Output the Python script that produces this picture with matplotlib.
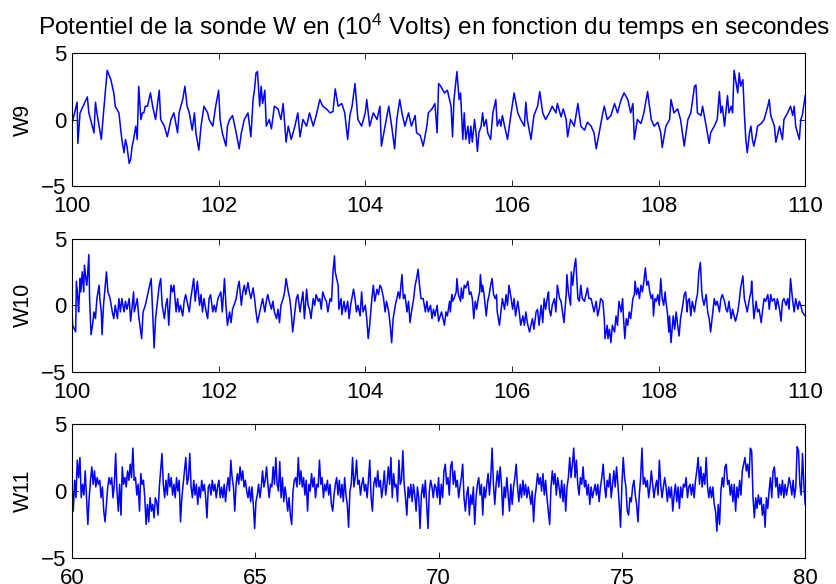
import numpy as np
import matplotlib
matplotlib.use("Agg")
import matplotlib.pyplot as plt

plt.rcParams['font.family'] = ['Liberation Sans', 'DejaVu Sans']

# W9, 100 s - 110 s
t_w9 = [100.00, 100.07, 100.08, 100.11, 100.21, 100.23, 100.30, 100.32, 100.34, 100.40,
        100.43, 100.48, 100.53, 100.57, 100.59, 100.64, 100.66, 100.68, 100.71, 100.73,
        100.75, 100.78, 100.80, 100.82, 100.84, 100.87, 100.89, 100.91, 100.94, 100.96,
        100.98, 101.00, 101.03, 101.05, 101.07, 101.10, 101.12, 101.14, 101.19, 101.21,
        101.26, 101.30, 101.35, 101.39, 101.44, 101.46, 101.51, 101.54, 101.57, 101.60,
        101.64, 101.67, 101.69, 101.73, 101.76, 101.80, 101.85, 101.87, 101.92, 101.96,
        102.00, 102.02, 102.05, 102.10, 102.12, 102.15, 102.19, 102.24, 102.28, 102.31,
        102.35, 102.40, 102.44, 102.47, 102.49, 102.51, 102.53, 102.56, 102.58, 102.60,
        102.63, 102.65, 102.69, 102.72, 102.76, 102.81, 102.85, 102.88, 102.92, 102.95,
        102.99, 103.04, 103.08, 103.11, 103.15, 103.20, 103.24, 103.29, 103.33, 103.38,
        103.42, 103.47, 103.52, 103.56, 103.59, 103.63, 103.68, 103.72, 103.76, 103.79,
        103.82, 103.86, 103.90, 103.95, 104.00, 104.02, 104.06, 104.11, 104.16, 104.20,
        104.22, 104.27, 104.32, 104.36, 104.40, 104.43, 104.47, 104.50, 104.54, 104.59,
        104.63, 104.68, 104.70, 104.75, 104.79, 104.84, 104.86, 104.91, 104.95, 104.98,
        105.00, 105.03, 105.08, 105.12, 105.17, 105.19, 105.21, 105.25, 105.28, 105.30,
        105.33, 105.35, 105.37, 105.40, 105.42, 105.44, 105.46, 105.49, 105.51, 105.53,
        105.55, 105.58, 105.60, 105.62, 105.65, 105.67, 105.71, 105.74, 105.78, 105.80,
        105.83, 105.85, 105.87, 105.90, 105.94, 105.99, 106.03, 106.08, 106.12, 106.17,
        106.19, 106.21, 106.26, 106.30, 106.35, 106.38, 106.42, 106.46, 106.51, 106.55,
        106.60, 106.62, 106.67, 106.70, 106.74, 106.76, 106.80, 106.85, 106.90, 106.94,
        106.99, 107.03, 107.08, 107.12, 107.15, 107.19, 107.24, 107.26, 107.30, 107.35,
        107.40, 107.44, 107.49, 107.53, 107.58, 107.62, 107.65, 107.67, 107.71, 107.76,
        107.80, 107.85, 107.90, 107.94, 107.99, 108.03, 108.05, 108.10, 108.15, 108.17,
        108.21, 108.26, 108.30, 108.35, 108.40, 108.44, 108.49, 108.51, 108.53, 108.58,
        108.60, 108.65, 108.69, 108.71, 108.76, 108.80, 108.83, 108.85, 108.87, 108.90,
        108.94, 108.96, 108.99, 109.01, 109.03, 109.05, 109.08, 109.10, 109.12, 109.15,
        109.17, 109.19, 109.21, 109.24, 109.26, 109.28, 109.30, 109.33, 109.35, 109.40,
        109.44, 109.49, 109.51, 109.53, 109.58, 109.60, 109.65, 109.69, 109.71, 109.76,
        109.80, 109.83, 109.85, 109.87, 109.92, 109.94, 109.96, 110.00]
w9 = [-0.3, 1.3, -1.8, 0.5, 1.7, 0.5, -1.0, 1.3, 0.5, -1.5,
      0.5, 3.7, 3.0, 2.0, 1.0, 0.5, -0.5, -1.5, -2.5, -1.5,
      -2.0, -3.3, -3.0, -2.0, -1.5, -0.5, -1.5, 2.5, 0.0, 0.5,
      0.5, 1.0, 1.0, 1.5, 2.0, 1.0, 0.5, 0.0, 2.2, 0.0,
      -0.5, -1.3, 0.0, 0.5, -1.0, 0.5, 1.5, 2.5, 1.0, 0.5,
      -0.8, 0.5, -1.0, -2.3, -0.5, 1.0, 0.5, 0.0, -0.5, 1.0,
      2.2, 0.0, -1.0, -2.0, -0.5, 0.0, 0.3, -1.0, -2.2, -1.0,
      0.0, 0.5, -1.3, 1.5, 2.3, 3.5, 3.6, 1.0, 2.5, 1.2,
      2.2, -0.5, 0.0, -0.7, 1.0, 0.8, 0.0, 1.2, -1.7, -0.5,
      -1.5, -0.5, 0.5, -1.3, 0.0, -0.5, 0.5, -0.5, 0.3, 1.5,
      1.0, 0.8, 0.5, 0.6, 2.3, 1.0, 1.2, 0.5, -1.5, 0.3,
      1.0, 2.7, 0.0, -0.5, 0.5, 1.5, -0.5, 0.5, 0.0, 1.0,
      -2.0, -0.5, 1.0, -0.5, -2.2, 0.0, 1.5, 0.5, -0.5, 0.5,
      -0.5, 0.3, -1.0, -1.2, -2.0, -0.5, 0.5, 0.8, 1.2, -1.0,
      2.7, 2.5, 2.0, 2.2, 1.0, -1.3, 1.5, 3.6, 1.5, 2.0,
      -1.5, 0.5, -1.5, -0.5, -1.8, -0.5, -1.7, 0.0, -1.0, -2.4,
      -1.0, -0.5, 0.5, -0.5, 0.0, -1.0, -1.5, 0.5, 1.5, -0.5,
      0.0, -0.5, 0.3, -0.5, -1.5, 0.5, 2.0, 0.5, 0.0, -0.5,
      1.3, 0.0, -1.5, 0.3, 1.0, 2.1, 0.5, 0.0, 0.5, 1.0,
      0.5, 1.2, 0.2, 0.8, 0.0, -1.3, 0.0, -0.5, 1.2, -0.5,
      -0.8, -0.2, -0.5, -1.0, -2.2, -1.0, 0.5, 1.0, 0.0, 0.3,
      1.2, 0.5, 1.5, 2.0, 1.5, 0.5, 1.2, -1.5, 0.0, -0.3,
      0.5, 2.1, 0.0, -0.5, -0.2, -1.0, -2.1, -0.5, 0.0, 1.5,
      0.5, 0.8, 0.0, -2.0, 0.0, 0.5, 2.5, 2.6, 0.5, 0.3,
      1.0, -0.5, -1.8, -1.0, -0.5, 0.0, 2.1, 0.5, 1.0, -0.5,
      1.8, 0.5, 1.0, 0.5, 3.7, 3.0, 2.0, 3.5, 2.5, 3.0,
      0.5, -1.5, -2.5, -1.0, -0.5, -1.5, -2.0, -1.2, -0.5, -0.3,
      0.0, 1.0, 1.5, 0.3, -0.5, -1.7, -0.5, -1.5, 0.0, 0.5,
      1.0, 0.3, 1.0, -0.5, -1.5, 0.0, 0.3, 1.8]

# W10, 100 s - 110 s
t_w10 = [100.00, 100.01, 100.05, 100.06, 100.08, 100.09, 100.11, 100.12, 100.14, 100.16,
         100.17, 100.20, 100.21, 100.23, 100.24, 100.26, 100.28, 100.30, 100.32, 100.34,
         100.37, 100.38, 100.40, 100.41, 100.43, 100.47, 100.49, 100.52, 100.55, 100.57,
         100.59, 100.62, 100.64, 100.66, 100.68, 100.71, 100.73, 100.75, 100.78, 100.80,
         100.84, 100.85, 100.89, 100.91, 100.95, 100.97, 101.00, 101.04, 101.06, 101.08,
         101.10, 101.12, 101.14, 101.16, 101.19, 101.21, 101.23, 101.26, 101.28, 101.30,
         101.32, 101.35, 101.37, 101.39, 101.42, 101.44, 101.46, 101.48, 101.51, 101.53,
         101.55, 101.58, 101.60, 101.62, 101.66, 101.68, 101.71, 101.74, 101.76, 101.78,
         101.80, 101.83, 101.85, 101.87, 101.89, 101.92, 101.94, 101.96, 101.99, 102.03,
         102.05, 102.08, 102.10, 102.12, 102.15, 102.17, 102.19, 102.21, 102.24, 102.26,
         102.28, 102.31, 102.33, 102.35, 102.37, 102.40, 102.42, 102.44, 102.47, 102.49,
         102.51, 102.53, 102.56, 102.58, 102.60, 102.63, 102.65, 102.67, 102.69, 102.72,
         102.74, 102.76, 102.79, 102.81, 102.83, 102.85, 102.88, 102.90, 102.92, 102.95,
         102.97, 102.99, 103.01, 103.04, 103.06, 103.08, 103.11, 103.13, 103.15, 103.17,
         103.20, 103.22, 103.24, 103.26, 103.29, 103.31, 103.33, 103.36, 103.38, 103.40,
         103.42, 103.45, 103.47, 103.49, 103.52, 103.54, 103.56, 103.58, 103.59, 103.61,
         103.63, 103.64, 103.67, 103.68, 103.71, 103.73, 103.76, 103.78, 103.80, 103.84,
         103.86, 103.88, 103.90, 103.93, 103.95, 103.97, 104.00, 104.02, 104.04, 104.06,
         104.09, 104.11, 104.13, 104.16, 104.18, 104.20, 104.22, 104.25, 104.27, 104.29,
         104.32, 104.34, 104.36, 104.38, 104.41, 104.43, 104.45, 104.47, 104.50, 104.52,
         104.54, 104.57, 104.59, 104.61, 104.63, 104.66, 104.68, 104.70, 104.72, 104.74,
         104.76, 104.79, 104.82, 104.84, 104.86, 104.89, 104.91, 104.93, 104.95, 104.98,
         105.00, 105.04, 105.08, 105.10, 105.12, 105.15, 105.16, 105.18, 105.19, 105.21,
         105.24, 105.25, 105.27, 105.30, 105.31, 105.33, 105.35, 105.37, 105.40, 105.42,
         105.44, 105.46, 105.48, 105.50, 105.52, 105.54, 105.56, 105.57, 105.59, 105.60,
         105.62, 105.65, 105.67, 105.69, 105.71, 105.73, 105.75, 105.77, 105.79, 105.80,
         105.83, 105.85, 105.87, 105.90, 105.92, 105.94, 105.96, 105.99, 106.01, 106.03,
         106.05, 106.08, 106.10, 106.12, 106.15, 106.17, 106.19, 106.21, 106.24, 106.26,
         106.28, 106.30, 106.33, 106.35, 106.37, 106.40, 106.42, 106.44, 106.46, 106.49,
         106.50, 106.51, 106.53, 106.55, 106.58, 106.60, 106.62, 106.65, 106.67, 106.69,
         106.71, 106.74, 106.75, 106.77, 106.80, 106.81, 106.83, 106.85, 106.87, 106.89,
         106.90, 106.92, 106.94, 106.96, 106.99, 107.01, 107.03, 107.05, 107.08, 107.10,
         107.12, 107.15, 107.17, 107.19, 107.21, 107.24, 107.26, 107.27, 107.30, 107.31,
         107.33, 107.35, 107.37, 107.40, 107.42, 107.44, 107.46, 107.49, 107.51, 107.52,
         107.54, 107.56, 107.58, 107.60, 107.62, 107.65, 107.67, 107.68, 107.70, 107.72,
         107.74, 107.76, 107.78, 107.80, 107.82, 107.84, 107.86, 107.88, 107.90, 107.92,
         107.93, 107.95, 107.97, 107.99, 108.01, 108.03, 108.05, 108.07, 108.09, 108.10,
         108.12, 108.14, 108.15, 108.17, 108.19, 108.20, 108.22, 108.24, 108.26, 108.28,
         108.30, 108.33, 108.35, 108.37, 108.39, 108.40, 108.42, 108.44, 108.46, 108.49,
         108.51, 108.53, 108.55, 108.57, 108.59, 108.60, 108.62, 108.65, 108.67, 108.69,
         108.71, 108.74, 108.76, 108.78, 108.80, 108.83, 108.85, 108.87, 108.90, 108.92,
         108.94, 108.96, 108.99, 109.01, 109.03, 109.05, 109.08, 109.10, 109.12, 109.15,
         109.17, 109.19, 109.21, 109.24, 109.26, 109.27, 109.29, 109.30, 109.33, 109.35,
         109.37, 109.40, 109.42, 109.44, 109.46, 109.49, 109.51, 109.53, 109.55, 109.58,
         109.60, 109.62, 109.65, 109.67, 109.69, 109.71, 109.74, 109.76, 109.78, 109.80,
         109.83, 109.85, 109.87, 109.90, 109.92, 109.94, 109.96, 110.00]
w10 = [-0.5, -1.5, -2.0, 1.8, 0.5, -0.5, 2.0, 1.0, 2.5, 1.0,
       3.0, 1.5, 2.0, 3.8, 0.5, -2.2, -1.5, -0.5, -1.0, 0.5,
       1.5, 0.5, -0.5, -2.2, 0.0, 2.5, 1.0, 0.5, -0.5, -1.0,
       0.0, -1.0, 0.5, -0.5, 0.5, -0.5, 0.3, -0.3, 0.5, -1.2,
       1.0, -0.5, 0.5, -0.8, -2.5, -0.5, 0.0, 1.0, 1.5, 2.0,
       -0.5, -3.2, -1.0, 0.0, 1.5, 2.0, 0.0, -1.0, 0.0, 0.5,
       -1.5, 1.5, 1.0, 1.5, -0.5, 0.5, -0.5, 0.0, -0.8, 0.3,
       0.8, 0.0, -0.5, 0.5, 2.0, 0.3, 1.8, 0.0, 0.8, -0.5,
       0.5, -0.5, -1.0, 0.5, 0.8, -0.5, 0.0, -0.5, 0.5, 1.0,
       -0.5, 2.0, 0.0, -1.5, -0.5, -1.3, -0.3, 0.0, 0.5, 1.3,
       1.8, 0.0, 1.0, 1.5, 0.8, 1.7, 1.0, 0.5, 1.3, 0.5,
       -0.5, -1.3, -0.5, 0.0, 0.5, -0.5, 0.3, 0.8, 0.3, -0.3,
       0.3, -0.5, -1.0, -0.3, -1.3, 0.0, 0.5, 1.0, 2.0, 1.0,
       0.5, -0.5, -2.0, -0.5, 0.5, 0.8, -0.5, 0.3, 1.0, -1.0,
       1.2, 0.0, -0.3, -1.0, 0.5, 0.0, 0.8, 0.3, 0.5, -0.3,
       1.0, 0.5, 0.3, -0.5, 0.5, 0.3, 2.5, 3.7, 2.5, 2.0,
       1.5, -0.3, 0.5, -0.7, 0.3, -0.5, 0.3, -1.0, 0.0, 1.2,
       0.5, -0.5, 0.0, -0.8, 1.0, -0.5, 0.0, -1.0, -2.5, -1.5,
       0.5, 1.5, 0.3, 1.2, 0.8, 1.5, 1.3, 0.5, -0.5, 0.3,
       -0.5, -1.5, -2.8, -1.0, 0.0, 0.5, 1.0, 0.5, 2.3, 0.5,
       0.8, -0.5, 0.3, -1.3, -0.5, 0.5, 1.5, 2.0, 2.7, 1.5,
       0.5, 0.5, -0.5, 0.3, -0.5, 0.0, -1.0, -0.3, -0.8, 0.0,
       -1.2, -0.5, -1.5, -0.5, -0.8, 0.3, -0.5, 0.8, 0.3, 0.5,
       1.0, 2.0, 0.8, 0.3, 1.3, 0.5, 1.5, 1.3, 1.8, 0.8,
       1.0, 0.5, -1.0, 0.3, -0.3, 0.5, 1.0, 2.3, 1.0, 1.5,
       0.8, -0.8, 0.3, 0.8, 1.5, 2.0, 0.8, 0.5, 0.8, -0.5,
       -1.5, -0.5, 0.5, -0.3, 0.8, 0.0, 1.5, 0.5, -0.3, 0.5,
       -0.8, 0.3, -0.5, -1.5, -0.8, -1.5, -0.5, -1.3, -2.0, -1.5,
       -1.0, -1.8, -0.5, -0.3, -1.5, 0.0, -1.3, 0.5, -0.3, 0.8,
       1.0, -0.3, -0.8, 0.0, 0.5, -0.5, 1.5, 0.5, 0.3, -0.5,
       -1.3, 0.8, 2.3, 1.0, 0.0, 2.5, 1.5, 2.8, 3.5, 1.5,
       0.5, 0.3, 1.5, 0.5, 0.3, 0.8, 1.3, 0.5, 0.5, 0.0,
       -0.5, 0.3, -0.8, -0.3, 0.5, 0.3, -1.0, -2.5, -1.5, -2.5,
       -1.8, -2.8, -1.5, -2.0, -0.8, -1.5, 0.3, -0.5, 0.5, -0.8,
       -2.5, -1.0, -1.5, -0.5, -1.0, 0.5, 0.8, 1.8, 0.8, 1.3,
       0.5, 1.5, 1.0, 1.8, 2.8, 1.5, 1.8, 1.0, 0.5, 0.8,
       -0.8, 0.5, 0.3, 0.8, 0.0, 2.0, 0.5, 0.0, 1.0, 0.3,
       -0.5, -2.0, -0.8, -2.8, -1.5, -0.8, -1.8, -0.5, -1.5, -2.3,
       -1.0, 0.0, 0.8, 1.0, -0.5, 0.3, 0.5, -0.8, 0.3, -0.5,
       0.3, 0.8, 2.5, 3.2, 1.0, 0.5, 0.0, 0.8, -0.5, -1.0,
       -2.0, -0.5, 0.5, 0.0, 0.3, -0.5, 0.5, 0.8, 0.3, -0.3,
       -0.5, 0.3, -1.0, -0.3, -0.8, -1.2, -0.5, 0.3, 1.3, 2.2,
       0.5, 0.0, -0.5, 0.5, 1.0, 1.8, 0.0, -1.0, 0.3, -0.5,
       -0.3, -1.3, -0.3, 0.5, 0.3, 0.8, -0.3, 0.8, 0.3, 0.5,
       -0.3, 0.5, -0.3, -1.2, 0.3, 0.5, 0.0, 0.5, -0.3, 2.0,
       0.3, -0.5, 0.5, -0.3, 0.3, 0.0, -0.5, -0.8]

# W11, 60 s - 80 s (evenly sampled)
w11_a = [0.5, -1.5, 0.8, -0.5, 2.3, 1.0, 2.5, -0.5, 0.5, -0.3,
         1.5, -0.5, -2.5, -0.5, 0.8, 1.8, 0.5, 1.5, 0.3, 1.0,
         0.5, 0.8, -0.5, 0.3, -1.5, -2.3, -1.0, 0.3, 1.0, 0.5,
         1.0, -0.5, 0.5, 2.8, 0.0, -1.5, 0.5, -1.8, 1.8, 0.5,
         1.0, 0.3, 1.5, 0.8, 2.0, 1.0, 3.2, 0.8, 1.0, -0.3,
         0.5, -1.5, 1.3, 0.5, 0.8, -0.5, -2.5, -1.0, -2.3, -0.5,
         -1.5, -1.0, -2.0, -0.5, -0.8, -1.8, 0.3, 1.5, 2.8, 0.5,
         -0.5, 0.8, -0.3, 1.3, 0.3, 1.0, -0.3, 0.5, -0.5, 1.0,
         0.0, 0.8, -2.3, -0.5, 0.5, 1.5, 2.5, 0.5, 1.0, 2.8,
         0.3, -0.5, 0.8, -0.3, 0.5, -1.0, 0.3, -0.5, 0.8, 0.0,
         0.5, -0.5, -2.0, 0.3, 0.5, -0.3, 0.8, 0.0, 0.5, -0.5,
         0.3, 0.8, -0.5, 0.3, -0.5, 0.5, -0.8, 0.3, 1.0, 0.0,
         2.3, 1.0, 0.3, -1.5, 0.5, 1.3, 0.5, 1.8, 0.8, 1.5,
         0.3, 0.8, 0.0, -0.5, 0.3, -0.8, 0.3, -1.0, -2.8, -0.8,
         -0.3, 0.5, -0.5, 0.3, 1.5, 0.3, 0.8, 1.8, 0.5, -0.5,
         0.5, 0.3, 1.8, 0.5, 2.5, 0.5, 0.0, 2.2, -0.5, 1.0,
         -0.8, 0.3, -0.5, -1.5, -0.5, -1.8, -2.5, 0.0, 0.8, 1.0,
         0.3, 2.5, 0.5, 1.5, 0.3, 1.0, -0.3, 0.8, -1.5, 0.5,
         0.0, 1.3, 0.3, 1.0, -0.5, 0.5, 0.3, 2.3, 0.5, 1.0,
         -0.5, 0.5, 0.0, 0.8, -0.3, 0.5, -1.0, -1.5, -0.3, 0.5,
         1.0, -0.3, 0.8, -0.5, 0.5, -0.8, 1.0, -0.3, -1.0, -2.7,
         0.0, 0.5, 2.5, 0.3, 1.0, 2.3, 0.5, 0.8, -0.3, 0.5,
         1.0, 0.0, 0.5, -0.5, 0.8, 2.3, -0.5, -1.5, 0.5, 1.0,
         0.3, 1.5, 0.3, 0.8, -0.5, 0.3, 1.5, -0.3, 0.5, 1.8,
         0.5, 2.5, -0.5, 1.3, 0.3, 0.5, -0.8, 2.3, 0.5, 0.8,
         3.0, 0.5, -0.5, -1.8, 0.3, -0.5, 0.5, -0.8, 0.5, -0.3,
         -1.5, 0.3, -0.5, -2.8, -0.3, 0.5, -0.5, 0.8, -1.0, -2.8,
         0.0, 0.8, 0.3, -0.5, 0.5, 0.3, -0.5, 1.0]
w11_b = [0.0, -1.0, 0.5, -0.5, 1.5, 2.0, 0.5, 1.0, -0.3, 1.8,
         2.2, 0.5, 1.5, 0.3, 0.8, -0.5, 0.3, 1.0, 2.0, -0.5,
         -1.5, -0.3, 0.3, -1.8, -0.3, -1.0, 0.3, -2.5, -0.5, 0.5,
         1.0, -0.3, 0.5, -1.8, 0.3, -0.5, 0.5, 1.3, -0.3, 1.0,
         3.2, 0.5, -1.0, 0.5, 1.5, 0.3, 1.8, 0.5, -1.8, 0.3,
         -0.5, 1.0, -0.3, -1.5, 0.5, -1.0, 0.3, 1.0, 2.0, 0.3,
         -0.8, 0.5, -0.5, 0.8, -0.3, 0.5, -0.5, 0.3, -0.3, -1.0,
         0.0, -2.3, -0.5, 0.3, 1.3, 0.5, 1.0, 0.0, 1.3, -0.3,
         0.8, -0.5, -1.5, -2.5, 0.3, 1.5, 0.5, 1.3, -0.3, 1.0,
         0.3, -0.5, 0.8, -0.8, 0.5, -1.5, 0.3, 1.0, 2.5, 1.0,
         2.0, 3.2, 1.0, 2.3, 0.5, -0.3, 1.0, 0.5, 1.8, 0.3,
         0.8, -0.3, 0.5, -1.0, 0.3, -0.5, 0.0, 0.5, -0.3, 0.5,
         -0.8, 0.3, 1.0, 2.0, 0.5, -0.5, 0.8, 0.3, 1.3, -0.5,
         0.5, 1.5, 0.3, 1.8, 0.5, -1.0, -2.7, 0.5, 2.5, 1.0,
         0.3, -1.5, -1.8, -0.5, -0.8, 0.3, 0.8, -0.3, -1.0, -2.3,
         -0.3, 1.0, 3.2, 0.5, 1.0, 0.3, 0.8, -0.5, 0.3, 1.5,
         0.5, -0.5, 0.3, 0.8, -0.3, 2.3, 0.5, -0.5, 0.3, 1.0,
         0.3, -0.8, 0.3, -0.5, 0.3, -1.5, -0.3, 0.5, -0.8, 0.3,
         -1.3, 0.3, -0.5, 0.5, 0.3, 1.0, -0.5, 0.3, 0.5, -0.3,
         0.5, -0.5, 0.8, 1.5, 2.5, 0.5, 1.8, 0.3, 1.3, 0.5,
         2.5, 0.3, -0.5, 0.3, -0.5, 0.3, -1.0, -1.5, -3.0, -1.0,
         -2.5, 0.0, 1.0, 0.3, 1.8, 2.0, 0.5, 0.8, -0.3, 0.5,
         -0.8, 0.5, -1.5, 0.3, -0.5, 0.8, -0.3, 1.5, 2.0, 2.5,
         1.5, 2.0, 1.0, 3.2, 3.0, -0.5, -2.0, -0.5, -1.3, -0.3,
         -1.0, -0.5, -1.8, -1.0, -2.7, -0.5, -1.3, 0.0, 1.0, -0.5,
         1.5, 1.8, 0.3, 1.0, -0.5, 0.5, -0.3, 0.8, -0.5, 0.5,
         -0.3, 0.3, 1.0, 0.5, -0.3, 0.8, -0.5, 0.3, 3.3, 3.0,
         0.5, -0.3, 2.8, 0.5, -1.0]

t_w11 = np.concatenate([np.linspace(60, 70, len(w11_a)),
                        np.linspace(70, 80, len(w11_b))[1:]])
w11 = np.concatenate([w11_a, w11_b[1:]])

panels = [
    (t_w9, w9, "W9", (100, 110), [100, 102, 104, 106, 108, 110], [0.6815, 0.2277]),
    (t_w10, w10, "W10", (100, 110), [100, 102, 104, 106, 108, 110], [0.363, 0.2286]),
    (t_w11, w11, "W11", (60, 80), [60, 65, 70, 75, 80], [0.0445, 0.2295]),
]

fig = plt.figure(figsize=(8.37, 5.84), dpi=100)
for i, (t, v, name, xl, xt, (y0, h)) in enumerate(panels):
    ax = fig.add_axes([0.086, y0, 0.876, h])
    ax.plot(t, v, color="#0000ff", linewidth=1.1)
    ax.set_xlim(*xl)
    ax.set_ylim(-5, 5)
    ax.set_xticks(xt)
    ax.set_yticks([-5, 0, 5])
    ax.set_yticklabels(["\u22125", "0", "5"])
    ax.tick_params(direction="in", length=4, width=0.6, labelsize=16,
                   top=True, right=True)
    ax.tick_params(axis="y", pad=4)
    ax.tick_params(axis="x", pad=7)
    for s in ax.spines.values():
        s.set_linewidth(0.8)
    ax.set_ylabel(name, fontsize=15.5, labelpad=5)
    if i == 0:
        ax.set_title("Potentiel de la sonde W en ($\\mathregular{10^4}$ Volts) en fonction du temps en secondes",
                     fontsize=17.6, pad=13, x=0.494)

fig.savefig("out.png", dpi=100)
